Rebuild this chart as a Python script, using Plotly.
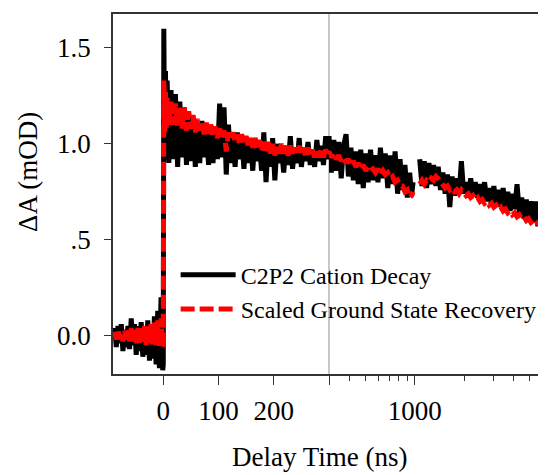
import math
import plotly.graph_objects as go

# ---------------- data ----------------
t_ns = [
    -88, -85, -82, -79, -76, -73, -70, -67, -64, -61, -58, -55, -52, -49, -46,
    -43, -40, -37, -34, -31, -28, -25, -22, -19, -16, -13, -10, -7, -4, -1,
    0, 1, 2.5, 4, 5.5, 7,
    10, 14, 18, 22, 26, 30, 34, 38, 42, 46, 50, 54, 58, 62, 66, 70, 74, 78, 82,
    86, 90, 94, 98, 102, 106, 110, 114, 118, 122, 126, 130, 134, 138, 142, 146,
    150, 154, 158, 162, 166, 170, 174, 178, 182, 186, 190, 194, 198, 202, 206,
    210, 214, 218, 222, 226, 230, 234, 238, 242, 246, 250, 254, 258, 262, 266,
    270, 274, 278, 282, 286, 290, 294, 298,
    300, 310, 321, 332, 344, 356, 368, 381, 394, 408, 422, 437, 452, 468, 485,
    502, 519, 537, 556, 576, 596, 617, 638, 660, 684, 708, 732, 758, 785, 812,
    840, 870, 900, 930, 955, 975,
    1020,
    1070, 1105, 1141, 1179, 1218, 1258, 1300, 1343, 1387, 1433, 1480, 1529, 1580,
    1632, 1686, 1742, 1799, 1858, 1920, 1983, 2049, 2116, 2186, 2259, 2333, 2410,
    2490, 2572, 2657, 2745, 2836, 2930, 3026, 3126, 3230, 3336, 3447, 3560, 3678,
    3800, 3925, 4055, 4189, 4327, 4470, 4618, 4771, 4929, 5091, 5260, 5434, 5613,
    5799, 5990, 6190,
]

cation_decay = [
    0.04, -0.06, 0.05, -0.04, 0.06, -0.08, 0.03, -0.06, 0.05, -0.07, 0.09, -0.05,
    0.06, -0.10, 0.05, -0.08, 0.07, -0.11, 0.04, -0.10, 0.08, -0.13, 0.06, -0.12,
    0.10, -0.15, 0.13, -0.17, 0.20, -0.18,
    -0.15, 1.60, 0.95, 1.38, 0.92, 1.33,
    0.90, 1.28, 0.92, 1.26, 0.88, 1.22, 0.93, 1.19, 0.89, 1.14, 0.91, 1.12, 0.88,
    1.10, 0.90, 1.12, 0.93, 1.07, 0.89, 1.06, 0.90, 1.08, 0.92, 1.21, 0.93, 1.19,
    0.84, 1.10, 0.90, 1.05, 0.88, 1.06, 0.92, 1.04, 0.87, 1.03, 0.90, 1.02, 0.86,
    1.03, 0.91, 1.00, 0.86, 1.06, 0.80, 1.00, 0.88, 1.03, 0.81, 1.00, 0.90, 0.97,
    0.85, 0.99, 0.89, 1.04, 0.87, 0.98, 0.90, 1.03, 0.88, 0.98, 0.91, 1.01, 0.89,
    0.97, 0.88, 1.02, 0.91, 0.99, 0.89, 1.04, 0.92,
    1.04, 0.85, 1.02, 0.86, 1.01, 0.82, 0.99, 1.05, 0.83, 0.98, 0.81, 0.96, 0.79,
    0.97, 0.77, 0.95, 0.80, 0.97, 0.81, 0.94, 0.80, 0.98, 0.82, 0.95, 0.77, 0.94,
    0.79, 0.96, 0.74, 0.92, 0.76, 0.89, 0.72, 0.85, 0.73, 0.80,
    None,
    0.92, 0.78, 0.91, 0.77, 0.90, 0.79, 0.89, 0.78, 0.88, 0.76, 0.85, 0.74, 0.84,
    0.67, 0.83, 0.73, 0.82, 0.74, 0.91, 0.74, 0.80, 0.72, 0.82, 0.73, 0.80, 0.72,
    0.79, 0.71, 0.80, 0.70, 0.77, 0.68, 0.78, 0.69, 0.76, 0.67, 0.77, 0.67, 0.75,
    0.65, 0.74, 0.66, 0.79, 0.64, 0.72, 0.61, 0.71, 0.60, 0.70, 0.59, 0.70, 0.57,
    0.70, 0.59, 0.66,
]

gsr_scaled = [
    0.02, -0.02, 0.03, -0.02, 0.02, -0.03, 0.03, -0.02, 0.03, -0.03, 0.04, -0.03,
    0.03, -0.04, 0.04, -0.04, 0.05, -0.04, 0.05, -0.05, 0.05, -0.04, 0.06, -0.05,
    0.07, -0.05, 0.08, -0.06, 0.09, -0.06,
    -0.05, 1.33, 1.05, 1.27, 1.08, 1.24,
    1.10, 1.22, 1.10, 1.21, 1.09, 1.20, 1.08, 1.19, 1.07, 1.17, 1.08, 1.15, 1.06,
    1.13, 1.07, 1.12, 1.05, 1.11, 1.04, 1.10, 1.05, 1.09, 1.03, 1.08, 1.04, 1.07,
    0.96, 1.06, 1.02, 1.06, 1.01, 1.05, 1.00, 1.05, 1.00, 1.04, 0.99, 1.03, 0.98,
    1.03, 0.97, 1.02, 0.96, 1.01, 0.96, 1.01, 0.95, 1.00, 0.94, 0.99, 0.95, 1.00,
    0.95, 0.99, 0.94, 0.99, 0.95, 0.98, 0.94, 0.99, 0.94, 0.98, 0.93, 0.98, 0.94,
    0.97, 0.93, 0.97, 0.93, 0.97, 0.93, 0.97, 0.94,
    0.96, 0.93, 0.95, 0.92, 0.94, 0.91, 0.93, 0.90, 0.92, 0.89, 0.91, 0.88, 0.90,
    0.87, 0.89, 0.86, 0.88, 0.86, 0.87, 0.85, 0.87, 0.84, 0.86, 0.84, 0.85, 0.82,
    0.83, 0.80, 0.81, 0.78, 0.78, 0.75, 0.76, 0.72, 0.73, 0.75,
    None,
    0.79, 0.81, 0.79, 0.81, 0.80, 0.82, 0.81, 0.83, 0.82, 0.80, 0.79, 0.77, 0.78,
    0.76, 0.77, 0.75, 0.76, 0.74, 0.76, 0.74, 0.73, 0.74, 0.72, 0.73, 0.71, 0.72,
    0.70, 0.71, 0.69, 0.70, 0.68, 0.69, 0.67, 0.68, 0.66, 0.67, 0.65, 0.66, 0.64,
    0.65, 0.63, 0.64, 0.62, 0.63, 0.61, 0.62, 0.60, 0.61, 0.59, 0.60, 0.58, 0.59,
    0.58, 0.60, 0.59,
]

y_tickvals = [0.0, 0.5, 1.0, 1.5]
y_ticktext = ["0.0", ".5", "1.0", "1.5"]
x_lin_tickvals = [0, 100, 200, 300]
x_lin_ticktext = ["0", "100", "200", ""]
x_log_tickvals = [1000]
x_log_ticktext = ["1000"]
x_log_minor = [400, 500, 600, 700, 800, 900, 2000, 3000, 4000, 5000, 6000]

LIN_MAX = 300
LOG_MAX = 6200

series_names = ["C2P2 Cation Decay", "Scaled Ground State Recovery"]

# ---------------- figure ----------------
FONT = "Liberation Serif, Times New Roman, serif"
AX = "#333333"

lin_idx = [i for i, t in enumerate(t_ns) if t <= 310]
log_idx = [i for i, t in enumerate(t_ns) if t >= 298]

fig = go.Figure()
styles = [
    dict(color="black", width=5),
    dict(color="#ff0000", width=5, dash="14px,5px"),
]
for name, vals, st in zip(series_names, [cation_decay, gsr_scaled], styles):
    fig.add_trace(go.Scatter(
        x=[t_ns[i] for i in lin_idx], y=[vals[i] for i in lin_idx],
        mode="lines", line=st, name=name, legendgroup=name,
        xaxis="x", yaxis="y", showlegend=True,
    ))
    fig.add_trace(go.Scatter(
        x=[t_ns[i] for i in log_idx], y=[vals[i] for i in log_idx],
        mode="lines", line=st, name=name, legendgroup=name,
        xaxis="x2", yaxis="y2", showlegend=False,
    ))

yr = [-0.2, 1.677]
common_ax = dict(showgrid=False, zeroline=False, showline=True, linecolor=AX,
                 linewidth=1.5, tickcolor=AX, tickwidth=1.2,
                 tickfont=dict(family=FONT, size=27, color="black"))

# the page body has an 8px default margin, so the figure is laid out 8px smaller
fig.update_layout(
    width=538, height=467,
    margin=dict(l=105, r=1, t=6, b=101),
    plot_bgcolor="white", paper_bgcolor="white",
    font=dict(family=FONT, color="black"),
    xaxis=dict(domain=[0, 0.5], range=[-91, LIN_MAX], tickmode="array",
               tickvals=x_lin_tickvals, ticktext=x_lin_ticktext,
               ticks="outside", ticklen=9, mirror=True, anchor="y",
               ticklabelstandoff=3, **common_ax),
    xaxis2=dict(domain=[0.5, 1], type="log",
                range=[math.log10(LIN_MAX), math.log10(LOG_MAX)],
                tickmode="array", tickvals=x_log_tickvals, ticktext=x_log_ticktext,
                ticks="outside", ticklen=9, mirror=True, anchor="y2",
                ticklabelstandoff=3,
                minor=dict(tickmode="array", tickvals=x_log_minor, ticks="outside",
                           ticklen=5, tickcolor=AX, tickwidth=1.2),
                **common_ax),
    yaxis=dict(domain=[0, 1], range=yr, tickmode="array", tickvals=y_tickvals,
               ticktext=y_ticktext, ticks="outside", ticklen=7, anchor="x",
               ticklabelstandoff=8, **common_ax),
    yaxis2=dict(domain=[0, 1], range=yr, anchor="x2", side="right",
                showticklabels=False, ticks="", showgrid=False, zeroline=False,
                showline=True, linecolor=AX, linewidth=1.5),
    legend=dict(x=0.145, y=0.337, xanchor="left", yanchor="top",
                bgcolor="rgba(0,0,0,0)", itemwidth=55, tracegroupgap=0,
                font=dict(family=FONT, size=24, color="black")),
    shapes=[dict(type="line", xref="paper", yref="paper", x0=0.5, x1=0.5,
                 y0=0, y1=1, line=dict(color="#c8c8c8", width=2), layer="below")],
    annotations=[
        dict(text="Delay Time (ns)", xref="paper", yref="paper", x=0.48, y=-0.2778,
             xanchor="center", yanchor="bottom", showarrow=False,
             font=dict(family=FONT, size=27, color="black")),
        dict(text="ΔA (mOD)", xref="paper", yref="paper", x=-0.197, y=0.561,
             xanchor="center", yanchor="middle", showarrow=False, textangle=-90,
             font=dict(family=FONT, size=27, color="black")),
    ],
)

fig.write_html("out.html")
